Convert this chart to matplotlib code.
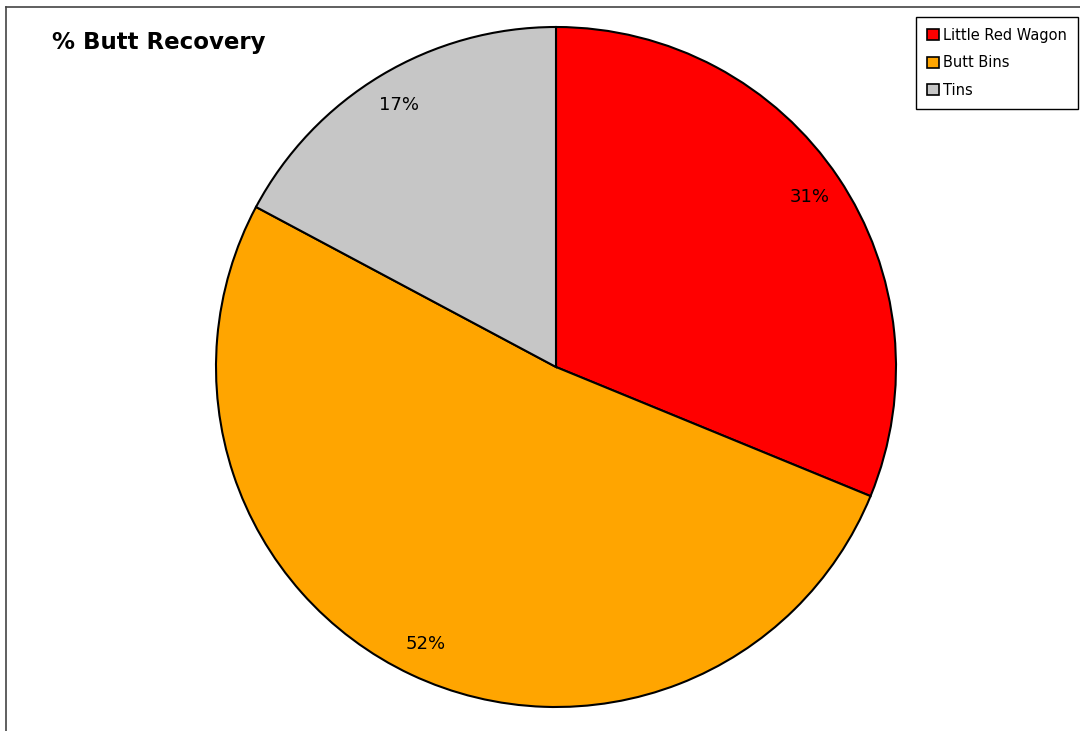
import matplotlib.pyplot as plt
from matplotlib.lines import Line2D
from matplotlib.patches import Patch

# data
labels = ['Little Red Wagon', 'Butt Bins', 'Tins']
values = [31.2, 51.6, 17.2]
colors = ['#ff0000', '#ffa500', '#c6c6c6']

W, H = 1080, 731
fig = plt.figure(figsize=(W / 100, H / 100), dpi=100)
fig.patch.set_facecolor('white')

# pie axes: centre (556, 367) px, radius 340 px
cx, cy, r = 556, 367, 340
ax = fig.add_axes([(cx - r) / W, (H - cy - r) / H, 2 * r / W, 2 * r / H])
wedges, texts, autotexts = ax.pie(
    values, colors=colors, startangle=90, counterclock=False,
    autopct='%1.0f%%', pctdistance=0.9, radius=1.0,
    wedgeprops=dict(edgecolor='black', linewidth=1.5),
    textprops=dict(fontsize=13, color='black'))
ax.set_xlim(-1.0, 1.0)
ax.set_ylim(-1.0, 1.0)
ax.set_aspect('equal')
ax.axis('off')

# outer frame (only top and left edges visible)
fig.add_artist(Line2D([6 / W, 6 / W], [0, 1 - 7 / H], color='#444444', lw=1.2, transform=fig.transFigure))
fig.add_artist(Line2D([6 / W, 1], [1 - 7 / H, 1 - 7 / H], color='#444444', lw=1.2, transform=fig.transFigure))

fig.text(52 / W, 1 - 43 / H, '% Butt Recovery', fontsize=16.5, fontweight='bold', va='center', ha='left')

handles = [Patch(facecolor=c, edgecolor='black', linewidth=1.2) for c in colors]
leg = fig.legend(handles, labels, loc='upper right', bbox_to_anchor=(1078 / W, 1 - 17 / H),
                 fontsize=10.5, frameon=True, fancybox=False, edgecolor='black',
                 framealpha=1, handlelength=0.8, handleheight=0.8, handletextpad=0.3,
                 labelspacing=0.85, borderpad=0.75, borderaxespad=0)
leg.get_frame().set_linewidth(1.0)

fig.savefig('out.png', dpi=100)
